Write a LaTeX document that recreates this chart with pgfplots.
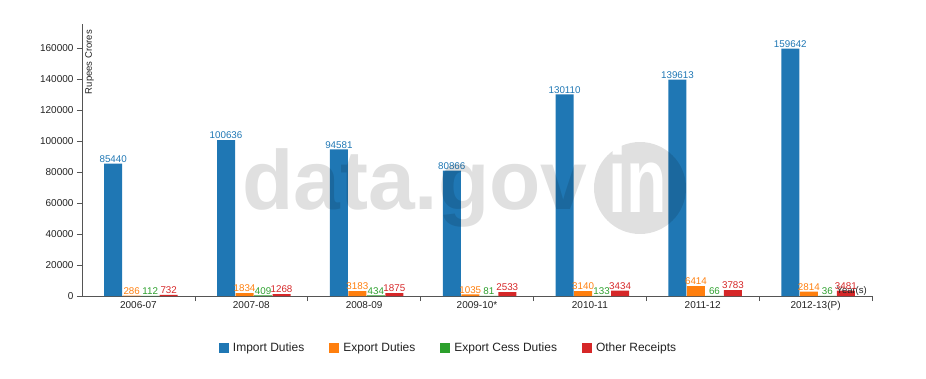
\documentclass[border=0pt]{standalone}
\usepackage{fontspec}
\setmainfont{Liberation Sans}
\usepackage{pgfplots}
\pgfplotsset{compat=1.18}
\definecolor{cB}{HTML}{1F77B4}
\definecolor{cO}{HTML}{FF7F0E}
\definecolor{cG}{HTML}{2CA02C}
\definecolor{cR}{HTML}{D62728}
\definecolor{axc}{HTML}{555555}
\definecolor{txt}{HTML}{222222}
\begin{document}
\begin{tikzpicture}[x=1pt,y=1pt]
\path[use as bounding box] (0,0) rectangle (926,378);
\begin{axis}[
  at={(82pt,82pt)}, anchor=south west,
  scale only axis, width=790pt, height=272pt,
  xmin=-0.5, xmax=6.5, ymin=0, ymax=175500,
  axis x line=bottom, axis y line=left,
  axis line style={axc,-},
  tick align=outside,
  major tick length=5pt,
  tick style={axc, line width=0.6pt},
  scaled y ticks=false,
  ytick={0,20000,40000,60000,80000,100000,120000,140000,160000},
  yticklabels={0,20000,40000,60000,80000,100000,120000,140000,160000},
  yticklabel style={font=\fontsize{10}{12}\selectfont, text=txt},
  xtick={0.5,1.5,2.5,3.5,4.5,5.5,6.5},
  xticklabels={},
  extra x ticks={0,1,2,3,4,5,6},
  extra x tick labels={2006-07,2007-08,2008-09,2009-10*,2010-11,2011-12,2012-13(P)},
  extra x tick style={major tick length=0pt, tick style={draw=none},
     tick label style={font=\fontsize{10}{12}\selectfont, text=txt, yshift=-2pt}},
  ybar, bar width=18pt,
  point meta=explicit symbolic,
  nodes near coords,
  nodes near coords style={font=\fontsize{9.8}{11}\selectfont, inner sep=1pt, anchor=south},
  legend columns=4,
  legend style={at={(axis description cs:0.1734,-0.191)}, anchor=west,
     draw=none, fill=none, inner sep=0pt, outer sep=0pt,
     font=\fontsize{12}{14}\selectfont, text=txt,
     /tikz/every even column/.append style={column sep=23pt}},
  legend image code/.code={\fill[#1] (0pt,-5pt) rectangle (10pt,5pt);},
  clip=false,
]
\addplot[fill=cB, draw=none, bar shift=-25.25pt, nodes near coords style={text=cB}] coordinates {(0,85440)[85440] (1,100636)[100636] (2,94581)[94581] (3,80866)[80866] (4,130110)[130110] (5,139613)[139613] (6,159642)[159642]};
\addplot[fill=cO, draw=none, bar shift=-6.75pt, nodes near coords style={text=cO}] coordinates {(0,286)[286] (1,1834)[1834] (2,3183)[3183] (3,1035)[1035] (4,3140)[3140] (5,6414)[6414] (6,2814)[2814]};
\addplot[fill=cG, draw=none, bar shift=11.75pt, nodes near coords style={text=cG}] coordinates {(0,112)[112] (1,409)[409] (2,434)[434] (3,81)[81] (4,133)[133] (5,66)[66] (6,36)[36]};
\addplot[fill=cR, draw=none, bar shift=30.25pt, nodes near coords style={text=cR}] coordinates {(0,732)[732] (1,1268)[1268] (2,1875)[1875] (3,2533)[2533] (4,3434)[3434] (5,3783)[3783] (6,3481)[3481]};
\legend{\hspace{2pt}Import Duties, \hspace{2pt}Export Duties, \hspace{2pt}Export Cess Duties, \hspace{2pt}Other Receipts}
\node[anchor=base east, inner sep=0pt, font=\fontsize{9.5}{11}\selectfont, text=txt] at (axis cs:6.5,0) [xshift=-5pt, yshift=2.5pt] {Year(s)};
\end{axis}
\node[rotate=90, anchor=north east, inner sep=0pt, font=\fontsize{9.5}{11}\selectfont, text=txt] at (85,348) {Rupees Crores};
% watermark
\node[anchor=base west, inner sep=0pt, font=\fontsize{84}{84}\selectfont\bfseries, text=black, text opacity=0.12] at (242,168) {data.gov};
\fill[black, opacity=0.12] (640,190) circle (46);
\node[anchor=base, inner sep=0pt, font=\fontsize{92}{92}\selectfont\bfseries, text=white, xscale=0.72] at (638,166) {in};
\end{tikzpicture}
\end{document}
